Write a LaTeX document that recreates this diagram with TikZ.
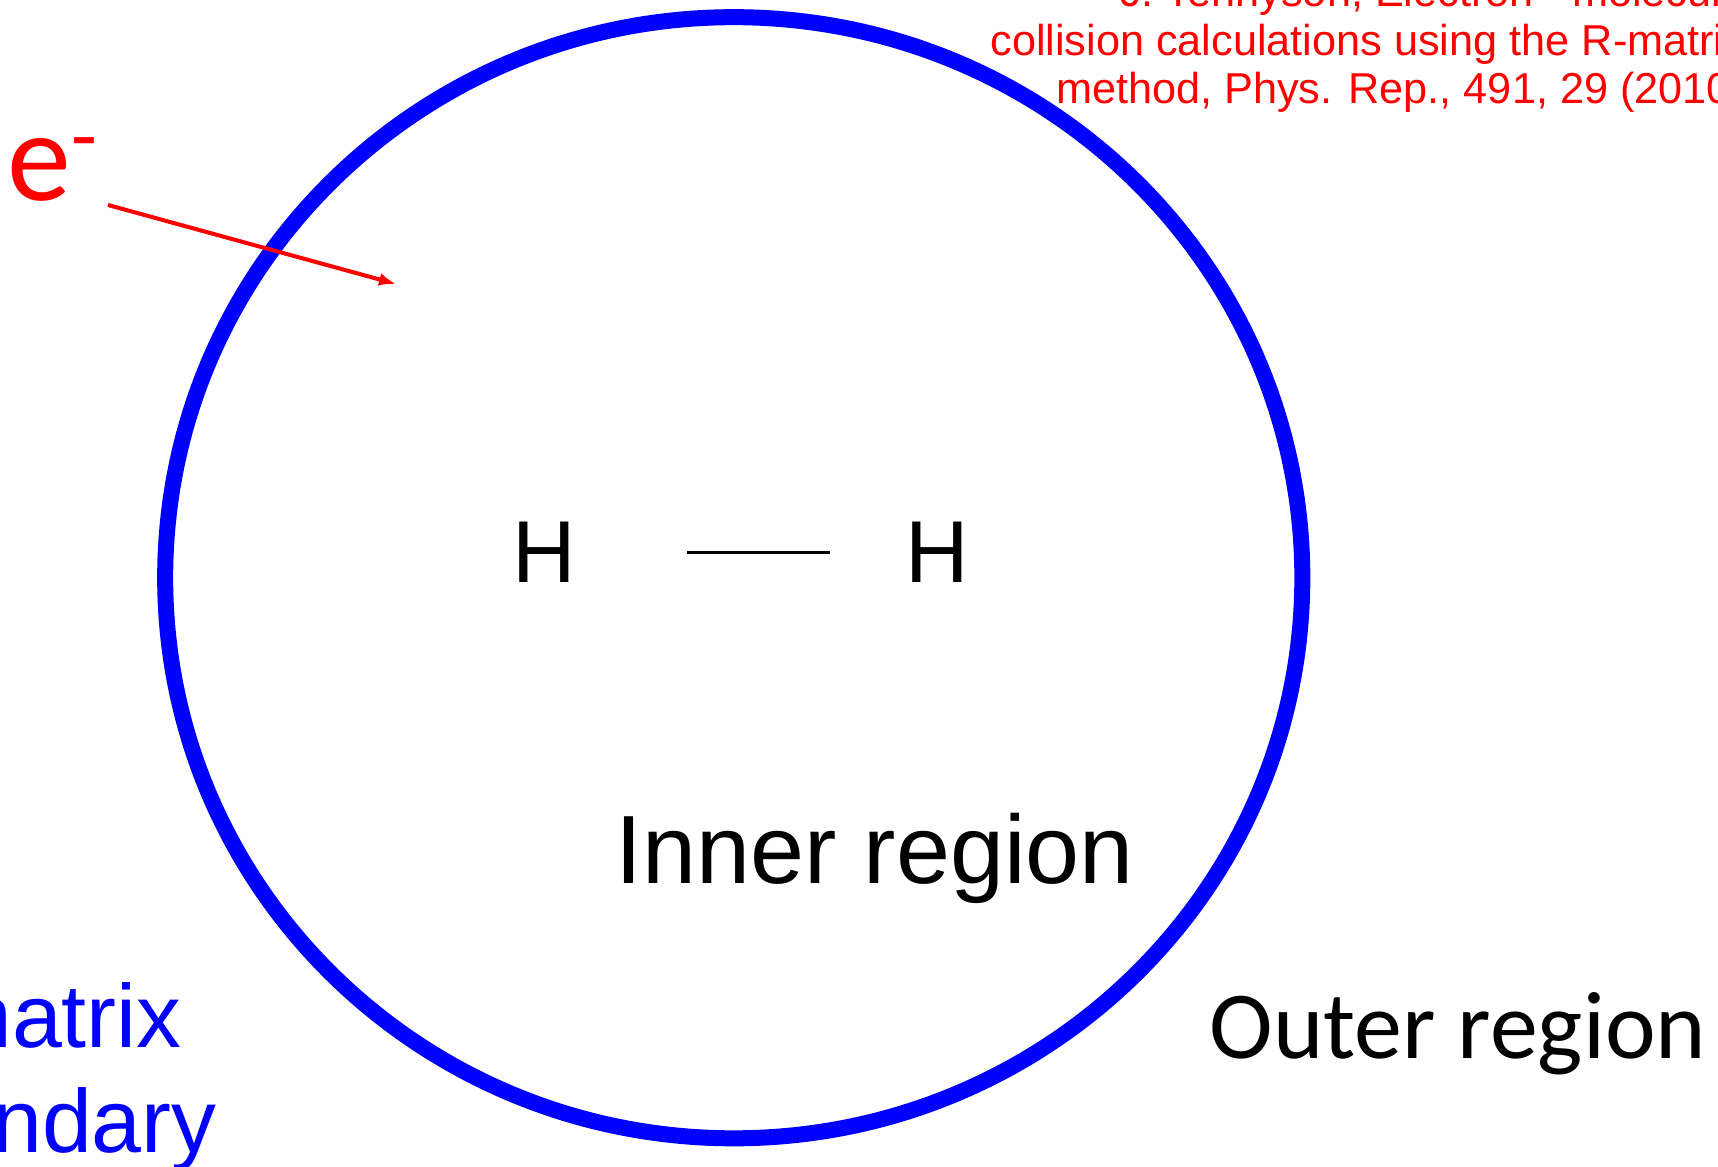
\documentclass[tikz,border=0pt]{standalone}
\usepackage{fontspec}
\setmainfont{Liberation Sans}
\newfontfamily\carlito{Carlito}
\usetikzlibrary{arrows.meta}

\tikzset{
	lbl/.style={inner sep=0pt, anchor=base west},
}

\begin{document}
\begin{tikzpicture}[x=0.01cm, y=-0.01cm, >={Latex[length=1.7mm, width=1.3mm]}]
		\useasboundingbox (0, 0) rectangle (1718, 1167);
		\clip (0, 0) rectangle (1718, 1167);
		\draw[blue, line width=0.16cm] (733.75, 577.75) ellipse [x radius=5.6825cm, y radius=5.6025cm];
		\node (h1) at (512, 582.7) [lbl, font=\fontsize{25}{30}\selectfont] {H};
		\node (h2) at (905, 582.7) [lbl, font=\fontsize{25}{30}\selectfont] {H};
		\draw[line width=0.6pt, shorten <=1.1cm, shorten >=0.75cm] (h1.east) -- (h2.west);
		\node (inner) at (615, 883) [lbl, font=\fontsize{27.6}{33}\selectfont] {Inner region};
		\node (outer) at (1209, 1058) [lbl, font=\carlito\fontsize{27.3}{33}\selectfont] {Outer region};
		\node (elec) at (7, 201) [lbl, red, font=\carlito\fontsize{36.4}{44}\selectfont] {e\raisebox{10.5pt}{\fontsize{24}{28}\selectfont -}};
		% multi-line nodes sit on their last baseline
		\node (bound) at (-158, 1152) [lbl, blue, align=left, font=\fontsize{25.5}{29.6}\selectfont] {R-matrix\\boundary};
		\node (cite) at (1746, 104) [inner sep=0pt, anchor=base east, red, align=right, font=\fontsize{12.3}{13.9}\selectfont] {J. Tennyson, Electron - molecule\\collision calculations using the R-matrix\\method, Phys. Rep., 491, 29 (2010)};
		\coordinate (ein) at (108, 205);
		\coordinate (eend) at (396, 284);
		\draw[->, red, line width=1.15pt] (ein) -- (eend);
	\end{tikzpicture}
\end{document}
